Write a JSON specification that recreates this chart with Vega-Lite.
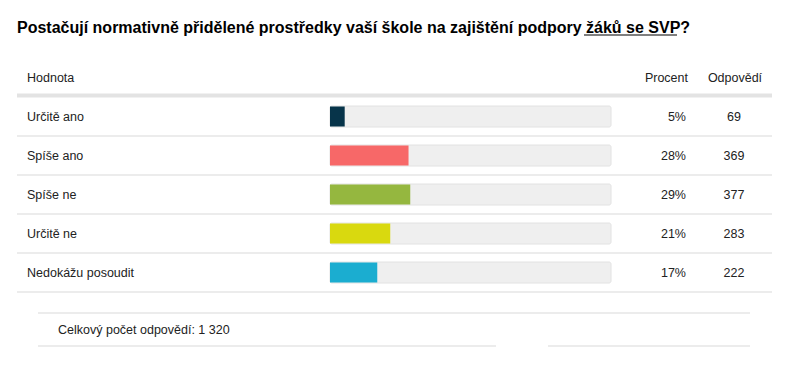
{
  "$schema": "https://vega.github.io/schema/vega-lite/v6.json",
  "padding": 0,
  "spacing": 0,
  "background": "white",
  "config": {
    "view": {"stroke": null},
    "font": "Liberation Sans",
    "text": {"font": "Liberation Sans", "fontSize": 12.5, "color": "#222222"}
  },
  "datasets": {
    "answers": [
      {"answer": "Určitě ano", "share": 0.0523, "count": 69, "color": "Určitě ano"},
      {"answer": "Spíše ano", "share": 0.2795, "count": 369, "color": "Spíše ano"},
      {"answer": "Spíše ne", "share": 0.2856, "count": 377, "color": "Spíše ne"},
      {"answer": "Určitě ne", "share": 0.2144, "count": 283, "color": "Určitě ne"},
      {"answer": "Nedokážu posoudit", "share": 0.1682, "count": 222, "color": "Nedokážu posoudit"}
    ],
    "header": [
      {"row": "Hodnota", "c1": "Hodnota", "c2": "Procent", "c3": "Odpovědí"}
    ],
    "title": [
      {"title": "Postačují normativně přidělené prostředky vaší škole na zajištění podpory žáků se SVP?"}
    ],
    "footer": [
      {"row": "total", "label": "Celkový počet odpovědí:", "total": 1320}
    ]
  },
  "vconcat": [
    {
      "width": 789,
      "height": 58,
      "data": {"name": "title"},
      "layer": [
        {
          "mark": {"type": "text", "align": "left", "baseline": "alphabetic", "fontSize": 16, "fontWeight": "bold", "color": "#000000", "dy": 4},
          "encoding": {
            "x": {"datum": -1.11388, "type": "quantitative", "scale": {"domain": [-1.17438, 1.63345], "nice": false, "zero": false}, "axis": null},
            "text": {"field": "title"}
          }
        },
        {
          "mark": {"type": "rule", "color": "#000000", "strokeWidth": 1.2, "yOffset": 6},
          "encoding": {
            "x": {"datum": 0.90391, "type": "quantitative", "axis": null},
            "x2": {"datum": 1.23488}
          }
        }
      ]
    },
    {
      "width": 789,
      "height": 234,
      "layer": [
        {
          "data": {"name": "answers"},
          "mark": {"type": "rule", "color": "#e6e6e6", "strokeWidth": 1.5},
          "encoding": {
            "y": {"field": "answer", "type": "nominal", "bandPosition": 1,
                  "scale": {"domain": ["Hodnota", "Určitě ano", "Spíše ano", "Spíše ne", "Určitě ne", "Nedokážu posoudit"], "paddingInner": 0, "paddingOuter": 0}, "axis": null},
            "x": {"datum": -1.11388, "type": "quantitative", "scale": {"domain": [-1.17438, 1.63345], "nice": false, "zero": false}, "axis": null},
            "x2": {"datum": 1.57295}
          }
        },
        {
          "data": {"name": "header"},
          "mark": {"type": "rule", "color": "#e3e3e3", "strokeWidth": 4, "yOffset": -1.5},
          "encoding": {
            "y": {"field": "row", "type": "nominal", "bandPosition": 1},
            "x": {"datum": -1.11388, "type": "quantitative"},
            "x2": {"datum": 1.57295}
          }
        },
        {
          "data": {"name": "header"},
          "mark": {"type": "text", "align": "left", "baseline": "middle"},
          "encoding": {
            "y": {"field": "row", "type": "nominal"},
            "x": {"datum": -1.07829, "type": "quantitative"},
            "text": {"field": "c1"}
          }
        },
        {
          "data": {"name": "header"},
          "mark": {"type": "text", "align": "right", "baseline": "middle"},
          "encoding": {
            "y": {"field": "row", "type": "nominal"},
            "x": {"datum": 1.27402, "type": "quantitative"},
            "text": {"field": "c2"}
          }
        },
        {
          "data": {"name": "header"},
          "mark": {"type": "text", "align": "center", "baseline": "middle"},
          "encoding": {
            "y": {"field": "row", "type": "nominal"},
            "x": {"datum": 1.44128, "type": "quantitative"},
            "text": {"field": "c3"}
          }
        },
        {
          "data": {"name": "answers"},
          "mark": {"type": "bar", "height": 21, "fill": "#efefef", "stroke": "#e2e2e2", "strokeWidth": 1, "cornerRadius": 2},
          "encoding": {
            "y": {"field": "answer", "type": "nominal"},
            "x": {"datum": 0, "type": "quantitative"},
            "x2": {"datum": 1}
          }
        },
        {
          "data": {"name": "answers"},
          "mark": {"type": "bar", "height": 20},
          "encoding": {
            "y": {"field": "answer", "type": "nominal"},
            "x": {"field": "share", "type": "quantitative"},
            "x2": {"datum": 0},
            "color": {"field": "color", "type": "nominal", "legend": null,
                      "scale": {"domain": ["Určitě ano", "Spíše ano", "Spíše ne", "Určitě ne", "Nedokážu posoudit"],
                                "range": ["#07344a", "#f76868", "#95b73f", "#d9d90f", "#1badd0"]}}
          }
        },
        {
          "data": {"name": "answers"},
          "mark": {"type": "text", "align": "left", "baseline": "middle"},
          "encoding": {
            "y": {"field": "answer", "type": "nominal"},
            "x": {"datum": -1.07829, "type": "quantitative"},
            "text": {"field": "answer"}
          }
        },
        {
          "data": {"name": "answers"},
          "mark": {"type": "text", "align": "right", "baseline": "middle"},
          "encoding": {
            "y": {"field": "answer", "type": "nominal"},
            "x": {"datum": 1.26690, "type": "quantitative"},
            "text": {"field": "share", "format": ".0%"}
          }
        },
        {
          "data": {"name": "answers"},
          "mark": {"type": "text", "align": "center", "baseline": "middle"},
          "encoding": {
            "y": {"field": "answer", "type": "nominal"},
            "x": {"datum": 1.43772, "type": "quantitative"},
            "text": {"field": "count"}
          }
        }
      ]
    },
    {
      "width": 789,
      "height": 73,
      "data": {"name": "footer"},
      "layer": [
        {
          "mark": {"type": "rule", "color": "#e6e6e6", "strokeWidth": 1.5},
          "encoding": {
            "y": {"field": "row", "type": "nominal", "bandPosition": 0, "scale": {"paddingInner": 0, "paddingOuter": 0.606}, "axis": null},
            "x": {"datum": -1.03915, "type": "quantitative", "scale": {"domain": [-1.17438, 1.63345], "nice": false, "zero": false}, "axis": null},
            "x2": {"datum": 1.49466}
          }
        },
        {
          "mark": {"type": "rule", "color": "#e6e6e6", "strokeWidth": 1.5},
          "encoding": {
            "y": {"field": "row", "type": "nominal", "bandPosition": 1},
            "x": {"datum": -1.03915, "type": "quantitative"},
            "x2": {"datum": 0.59075}
          }
        },
        {
          "mark": {"type": "rule", "color": "#e6e6e6", "strokeWidth": 1.5},
          "encoding": {
            "y": {"field": "row", "type": "nominal", "bandPosition": 1},
            "x": {"datum": 0.77580, "type": "quantitative"},
            "x2": {"datum": 1.49466}
          }
        },
        {
          "mark": {"type": "text", "align": "left", "baseline": "middle"},
          "encoding": {
            "y": {"field": "row", "type": "nominal"},
            "x": {"datum": -0.96797, "type": "quantitative"},
            "text": {"value": "Celkový počet odpovědí: 1 320"}
          }
        }
      ]
    }
  ]
}
